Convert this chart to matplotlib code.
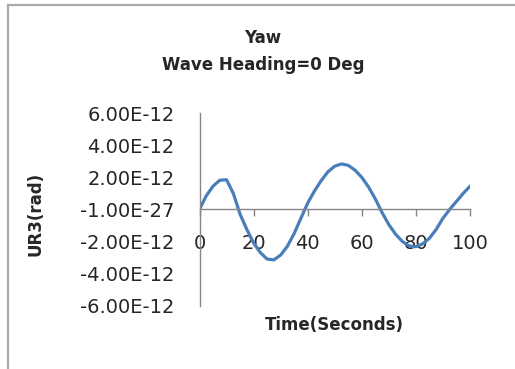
import numpy as np
import matplotlib
matplotlib.use("Agg")
import matplotlib.pyplot as plt
from matplotlib.lines import Line2D

# yaw response, values in units of 1e-12 rad
time_s = [0, 2.5, 5, 7.5, 10, 12.5, 15, 17.5, 20, 22.5, 25, 27.5, 30, 32.5, 35,
          37.5, 40, 42.5, 45, 47.5, 50, 52.5, 55, 57.5, 60, 62.5, 65, 67.5, 70,
          72.5, 75, 77.5, 80, 82.5, 85, 87.5, 90, 92.5, 95, 97.5, 100]
ur3 = [0, 0.85, 1.45, 1.82, 1.85, 1.0, -0.3, -1.25, -2.1, -2.7, -3.1, -3.15,
       -2.85, -2.3, -1.5, -0.55, 0.4, 1.15, 1.8, 2.35, 2.7, 2.84, 2.75, 2.45,
       2.0, 1.4, 0.65, -0.2, -0.95, -1.55, -2.0, -2.28, -2.33, -2.15, -1.8,
       -1.25, -0.55, 0.0, 0.5, 1.0, 1.45]
ur3 = np.array(ur3) * 1e-12

x_ticks = [0, 20, 40, 60, 80, 100]
y_ticks = [6e-12, 4e-12, 2e-12, 0, -2e-12, -4e-12, -6e-12]
y_tick_labels = ["6.00E-12", "4.00E-12", "2.00E-12", "-1.00E-27",
                 "-2.00E-12", "-4.00E-12", "-6.00E-12"]

W, H = 515, 369
fig = plt.figure(figsize=(W / 100, H / 100), dpi=100)
ax = fig.add_axes([199.5 / W, 63.5 / H, 270.5 / W, 192.2 / H])

ax.plot(time_s, ur3, color="#4A7EBB", lw=2.3, solid_capstyle="round")

ax.set_xlim(0, 100)
ax.set_ylim(-6e-12, 6e-12)

axis_grey = "#868686"
text_col = "#262626"
for side in ["top", "right"]:
    ax.spines[side].set_visible(False)
ax.spines["bottom"].set_position(("data", 0))
for side in ["left", "bottom"]:
    ax.spines[side].set_color(axis_grey)
    ax.spines[side].set_linewidth(1.0)

ax.set_xticks(x_ticks)
ax.set_xticklabels([str(v) for v in x_ticks])
ax.set_yticks(y_ticks)
ax.set_yticklabels(y_tick_labels)
ax.tick_params(axis="x", direction="out", length=5, width=1.0, color=axis_grey,
               pad=13, labelsize=14, labelcolor=text_col)
ax.tick_params(axis="y", length=0, pad=18, labelsize=14, labelcolor=text_col)

ax.text(0.5, -0.10, "Time(Seconds)", transform=ax.transAxes, ha="center",
        va="center", fontsize=12, fontweight="bold", color=text_col)
fig.text(35 / W, 1 - 214 / H, "UR3(rad)", rotation=90, ha="center",
         va="center", fontsize=12, fontweight="bold", color=text_col)

fig.text(263 / W, 1 - 38 / H, "Yaw", ha="center", va="center",
         fontsize=12, fontweight="bold", color=text_col)
fig.text(263 / W, 1 - 65 / H, "Wave Heading=0 Deg", ha="center", va="center",
         fontsize=12, fontweight="bold", color=text_col)

# chart area border (left and top edges, running off the canvas)
border = dict(color="#ABABAB", lw=1.6, transform=fig.transFigure)
fig.add_artist(Line2D([8 / W, 8 / W], [-0.1, 1 - 5 / H], **border))
fig.add_artist(Line2D([8 / W, 1.1], [1 - 5 / H, 1 - 5 / H], **border))

fig.savefig("out.png", dpi=100)
